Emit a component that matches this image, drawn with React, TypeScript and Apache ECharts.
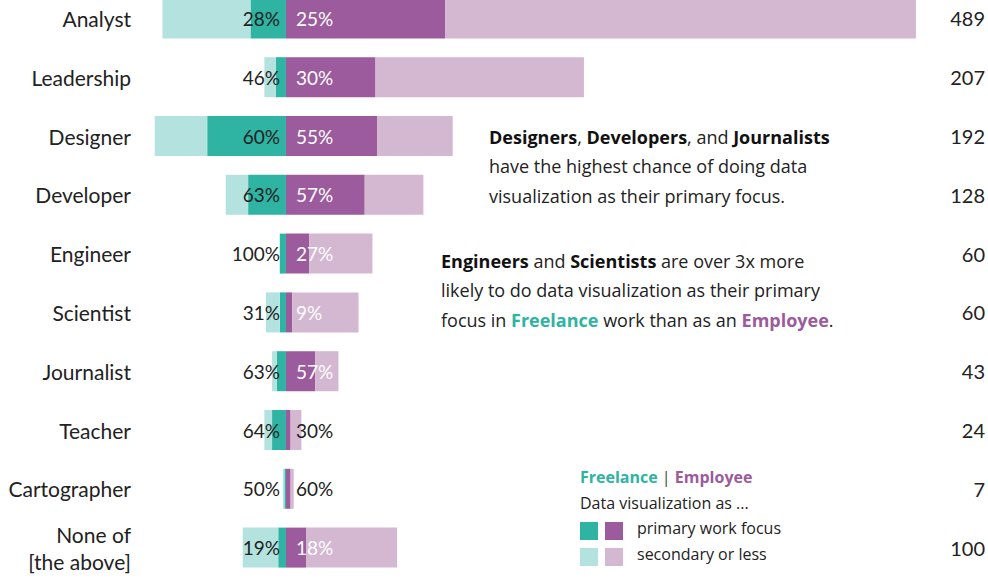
import { useEffect, useRef } from 'react';
import * as echarts from 'echarts';

const roles = ['Analyst', 'Leadership', 'Designer', 'Developer', 'Engineer', 'Scientist', 'Journalist', 'Teacher', 'Cartographer', 'None of\n[the above]'];
const totals = [489, 207, 192, 128, 60, 60, 43, 24, 7, 100];
const freePrimary = [23, 6.5, 51, 24.5, 4, 4, 6, 9, 1, 5];
const freeSecondary = [57, 7.5, 34, 14.5, 0, 9, 3, 5, 1, 23];
const empPrimary = [103, 58, 59, 51, 15, 4, 19, 3, 3, 13];
const empSecondary = [305, 135, 49, 38, 41, 43, 15, 7, 2, 59];
const freePct = ['28%', '46%', '60%', '63%', '100%', '31%', '63%', '64%', '50%', '19%'];
const empPct = ['25%', '30%', '55%', '57%', '27%', '9%', '57%', '30%', '60%', '18%'];

const TEAL = '#2fb3a2';
const TEAL_L = '#b4e3df';
const PURP = '#9b5b9c';
const PURP_L = '#d4b7d1';
const FONT = 'Lato, "Open Sans", sans-serif';
const TFONT = '"Open Sans", sans-serif';
const SHIFT = 11;

export default function App() {
  const chartRef = useRef<HTMLDivElement>(null);

  useEffect(() => {
    document.body.style.margin = '0';
    if (!chartRef.current) return;
    const chart = echarts.init(chartRef.current, null, { renderer: 'svg' });

    const bar = (name: string, data: number[], color: string, label?: any) => ({
      name,
      type: 'bar',
      stack: 'a',
      barWidth: 40,
      data,
      itemStyle: { color },
      label,
      silent: true,
    });

    const option: any = {
      animation: false,
      textStyle: { fontFamily: FONT },
      grid: { left: 147, width: 775, top: 0, bottom: 7 },
      xAxis: { type: 'value', min: -90, max: 410, show: false },
      yAxis: [
        {
          type: 'category',
          inverse: true,
          data: roles,
          position: 'left',
          axisLine: { show: false },
          axisTick: { show: false },
          axisLabel: { fontSize: 21, color: '#222', margin: 16, lineHeight: 27, fontFamily: FONT },
        },
        {
          type: 'category',
          inverse: true,
          data: totals.map(String),
          position: 'right',
          axisLine: { show: false },
          axisTick: { show: false },
          axisLabel: { fontSize: 20, color: '#222', align: 'right', margin: 66, fontFamily: FONT },
        },
      ],
      series: [
        bar('fp', freePrimary.map((v) => -v), TEAL, {
          show: true,
          position: 'insideRight',
          distance: 6,
          fontSize: 19,
          color: '#222',
          fontFamily: FONT,
          formatter: (p: any) => freePct[p.dataIndex],
        }),
        bar('fs', freeSecondary.map((v) => -v), TEAL_L),
        {
          ...bar('ep', empPrimary, PURP),
          data: empPrimary.map((v, i) => ({
            value: v,
            label: { color: i === 7 || i === 8 ? '#222' : '#fff' },
          })),
          label: {
            show: true,
            position: 'insideLeft',
            distance: 10,
            fontSize: 19,
            fontFamily: FONT,
            formatter: (p: any) => empPct[p.dataIndex],
          },
        },
        bar('es', empSecondary, PURP_L),
      ],
      graphic: [
        {
          type: 'text', left: 489, top: 122 + SHIFT,
          style: {
            text: '{b|Designers}, {b|Developers}, and {b|Journalists}\nhave the highest chance of doing data\nvisualization as their primary focus.',
            font: `18px ${TFONT}`, fill: '#222', lineHeight: 29.5,
            rich: { b: { fontWeight: 'bold', fontSize: 18, fontFamily: TFONT, fill: '#111' } },
          },
        },
        {
          type: 'text', left: 441, top: 246 + SHIFT,
          style: {
            text: '{b|Engineers} and {b|Scientists} are over 3x more\nlikely to do data visualization as their primary\nfocus in {t|Freelance} work than as an {p|Employee}.',
            font: `18px ${TFONT}`, fill: '#222', lineHeight: 29.5,
            rich: {
              t: { fontWeight: 'bold', fontSize: 18, fontFamily: TFONT, fill: TEAL },
              b: { fontWeight: 'bold', fontSize: 18, fontFamily: TFONT, fill: '#111' },
              p: { fontWeight: 'bold', fontSize: 18, fontFamily: TFONT, fill: PURP },
            },
          },
        },
        {
          type: 'text', left: 580, top: 469 + SHIFT,
          style: {
            text: '{t|Freelance} | {p|Employee}',
            font: `16px ${TFONT}`, fill: '#444',
            rich: {
              t: { fontWeight: 'bold', fontSize: 16, fontFamily: TFONT, fill: TEAL },
              p: { fontWeight: 'bold', fontSize: 16, fontFamily: TFONT, fill: PURP },
            },
          },
        },
        { type: 'text', left: 580, top: 495 + SHIFT, style: { text: 'Data visualization as ...', font: `16px ${TFONT}`, fill: '#222' } },
        { type: 'rect', shape: { x: 580, y: 522 + SHIFT, width: 18, height: 18 }, style: { fill: TEAL } },
        { type: 'rect', shape: { x: 605, y: 522 + SHIFT, width: 18, height: 18 }, style: { fill: PURP } },
        { type: 'text', left: 637, top: 520 + SHIFT, style: { text: 'primary work focus', font: `16px ${TFONT}`, fill: '#222' } },
        { type: 'rect', shape: { x: 580, y: 548 + SHIFT, width: 18, height: 18 }, style: { fill: TEAL_L } },
        { type: 'rect', shape: { x: 605, y: 548 + SHIFT, width: 18, height: 18 }, style: { fill: PURP_L } },
        { type: 'text', left: 637, top: 546 + SHIFT, style: { text: 'secondary or less', font: `16px ${TFONT}`, fill: '#222' } },
      ],
    };

    chart.setOption(option);
    return () => chart.dispose();
  }, []);

  return <div ref={chartRef} style={{ width: 988, height: 595, marginTop: -SHIFT }} />;
}
